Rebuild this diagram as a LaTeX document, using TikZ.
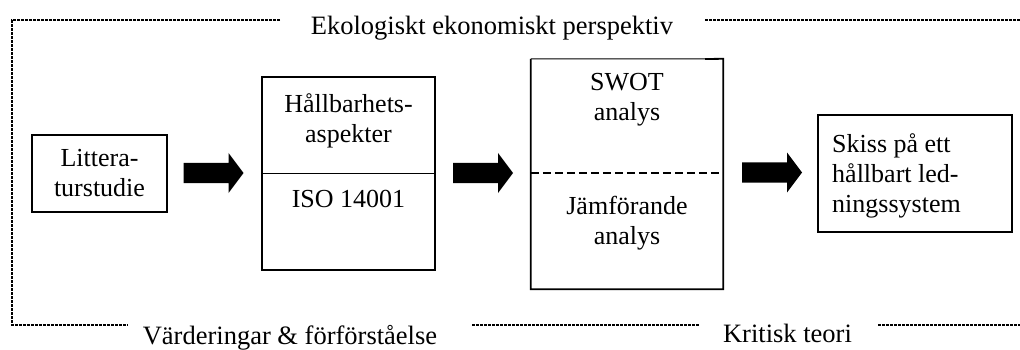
\documentclass[tikz,border=0pt]{standalone}
\usepackage{fontspec}
\setmainfont{Liberation Serif}
\begin{document}
\begin{tikzpicture}[x=1pt,y=-1pt,
 box/.style={draw, line width=1.8pt, inner sep=0pt},
 txt/.style={font=\fontsize{26}{30}\selectfont, inner sep=0pt, align=center},
 lab/.style={font=\fontsize{26.5}{30}\selectfont, inner sep=0pt, anchor=base},
 frameline/.style={line width=2.8pt, dash pattern=on 2.6pt off 1.4pt},
 bigarrow/.style={fill=black}
]
\useasboundingbox (0,0) rectangle (1020,350);

% frame
\coordinate (t1) at (12,20);
\coordinate (t2) at (280,20);
\coordinate (t3) at (705,20);
\coordinate (t4) at (1020,20);
\coordinate (b1) at (12,325);
\coordinate (b2) at (128,325);
\coordinate (b3) at (472,325);
\coordinate (b4) at (699,325);
\coordinate (b5) at (878,325);
\coordinate (b6) at (1020,325);
\draw[frameline] (t2) -- (t1) -- (b1) -- (b2);
\draw[frameline] (t3) -- (t4);
\draw[frameline] (b3) -- (b4);
\draw[frameline] (b5) -- (b6);
\node[lab] (top) at (492,35) {Ekologiskt ekonomiskt perspektiv};
\node[lab] (vard) at (290,344) {Värderingar \& förförståelse};
\node[lab] (krit) at (787.5,342) {Kritisk teori};

% boxes
\node[box, minimum width=135pt, minimum height=77pt] (lit) at (99.5,173.5) {};
\node[txt] (littxt) at (lit) {Littera-\\turstudie};

\node[box, minimum width=173pt, minimum height=193pt] (hall) at (348.5,173.5) {};
\draw[line width=1.8pt] (hall.west) -- (hall.east);
\node[txt] (halltxt) at (348.5,121) {Hållbarhets-\\aspekter};
\node[txt] (iso) at (348.5,199) {ISO 14001};

\node[inner sep=0pt, minimum width=192pt, minimum height=230pt] (swot) at (627,174) {};
\coordinate (swotk) at (705,59);
\draw[line width=1pt] (swot.north west) -- (swotk);
\draw[line width=1.8pt] (swotk) -- (swot.north east) -- (swot.south east) -- (swot.south west) -- (swot.north west);
\draw[line width=1.5pt, dash pattern=on 8pt off 4pt] (swot.west |- 0,173) -- (swot.east |- 0,173);
\node[txt] (swottxt) at (627,100) {SWOT\\analys};
\node[txt] (jamf) at (627,223) {Jämförande\\analys};

\node[box, minimum width=194pt, minimum height=117pt] (skiss) at (915,173.5) {};
\node[txt, align=left, anchor=west] (skisstxt) at (832,176) {Skiss på ett\\hållbart led-\\ningssystem};

% arrows
\coordinate (a1) at (213.5,173);
\coordinate (a2) at (483,173);
\coordinate (a3) at (772,172.5);
\foreach \a in {a1,a2,a3}{
  \fill[bigarrow] ([shift={(-30,-10)}]\a) -- ([shift={(15,-10)}]\a) -- ([shift={(15,-20)}]\a)
    -- ([shift={(30,0)}]\a) -- ([shift={(15,20)}]\a) -- ([shift={(15,10)}]\a)
    -- ([shift={(-30,10)}]\a) -- cycle;
}
\end{tikzpicture}
\end{document}
